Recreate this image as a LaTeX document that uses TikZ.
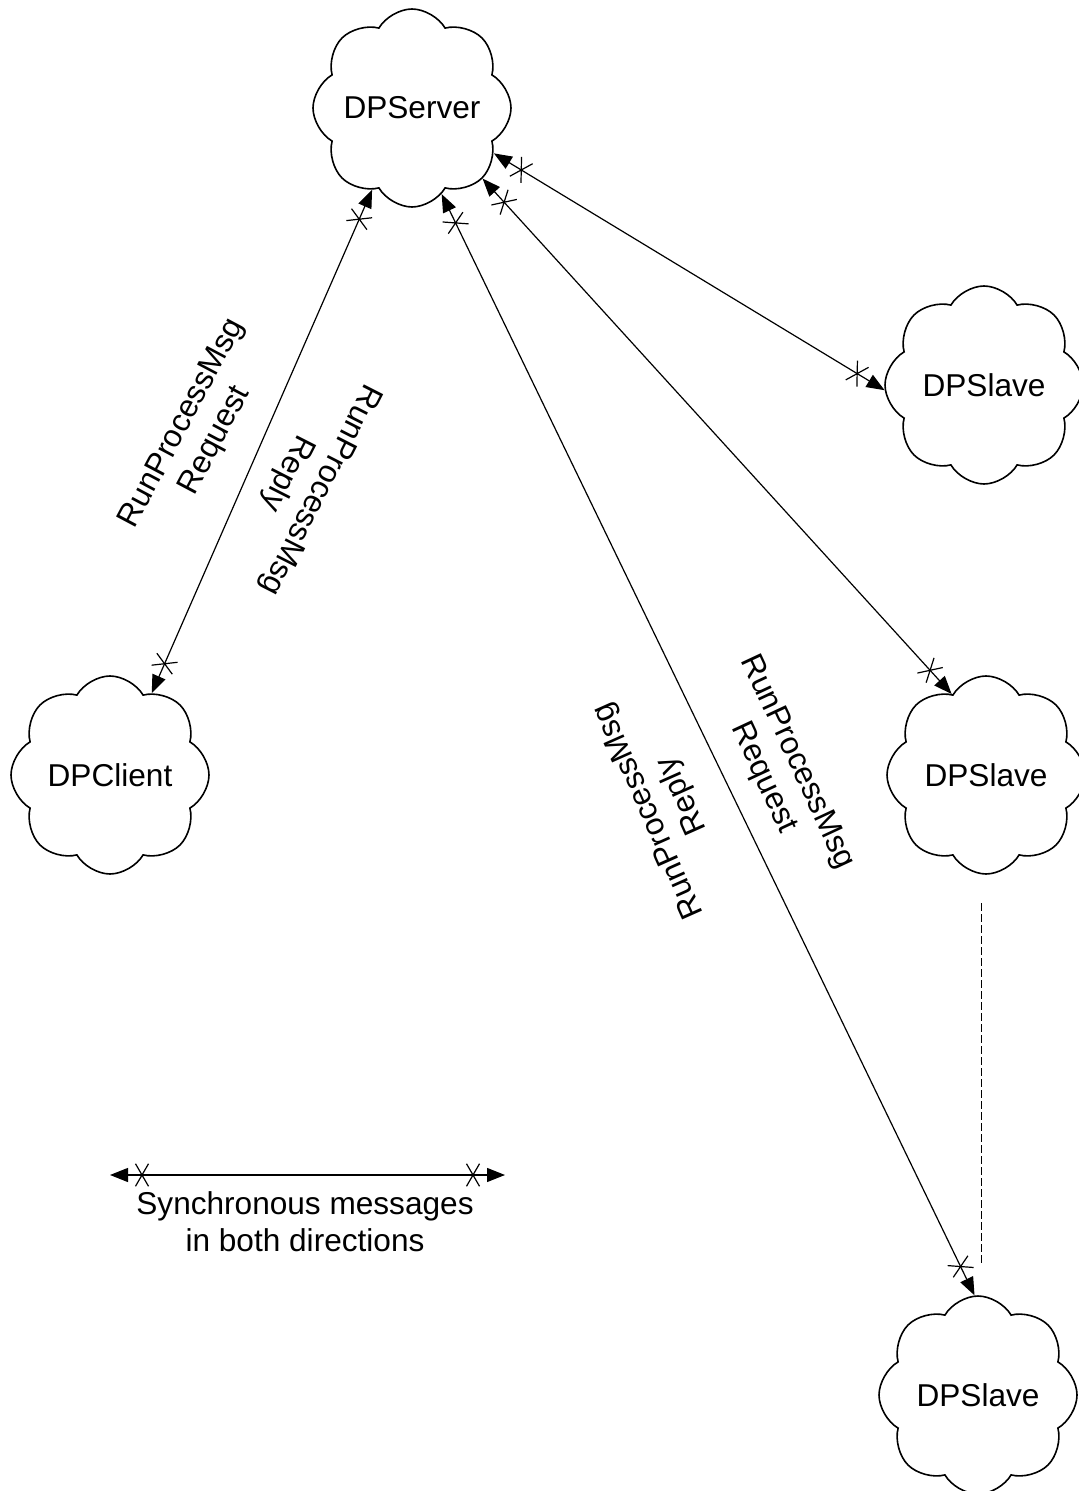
\documentclass[tikz,border=0pt]{standalone}
\usepackage{fontspec}
\setmainfont{Liberation Sans}
\usepackage{tikz}
\usetikzlibrary{shapes.symbols,arrows.meta,decorations.markings}
\newcommand{\msgstar}{\draw[-, line width=0.6pt] (60:6.5pt) -- (240:6.5pt) (120:6.5pt) -- (300:6.5pt);}
\tikzset{
  cloudnode/.style={cloud, cloud puffs=8, cloud puff arc=120, aspect=1, draw,
    line width=0.8pt, minimum width=99pt, minimum height=99pt,
    inner xsep=-25pt, inner ysep=0pt},
  syncmsg/.style={{Triangle[length=9pt,width=7pt]}-{Triangle[length=9pt,width=7pt]},
    line width=0.6pt, postaction={decorate},
    decoration={markings, mark=at position 16pt with {\msgstar},
      mark=at position -16pt with {\msgstar}}},
  msglabel/.style={align=center, inner sep=0pt},
}

\begin{document}
\begin{tikzpicture}[x=0.5pt, y=-0.5pt, font=\fontsize{15.8}{18.5}\selectfont]
\useasboundingbox (0,0) rectangle (1079,1491);

\node[cloudnode] (srv) at (412,108) {DPServer};
\node[cloudnode] (cli) at (110,775) {DPClient};
\node[cloudnode] (slvA) at (984,385) {DPSlave};
\node[cloudnode] (slvB) at (986,775) {DPSlave};
\node[cloudnode] (slvC) at (978,1395) {DPSlave};

\draw[syncmsg] (cli.63) -- (srv.244);
\draw[syncmsg] (srv.289) -- (slvC.92);
\draw[syncmsg] (srv.315) -- (slvB.113);
\draw[syncmsg] (srv.331) -- (slvA.183);

\node[msglabel, rotate=62] (reqcli) at (199,432) {RunProcessMsg\\Request};
\node[msglabel, rotate=243] (repcli) at (303,481) {RunProcessMsg\\Reply};
\node[msglabel, rotate=114] (repslv) at (666,803) {RunProcessMsg\\Reply};
\node[msglabel, rotate=-65] (reqslv) at (780,770) {RunProcessMsg\\Request};

\coordinate (more1) at (981,903);
\coordinate (more2) at (981,1265);
\draw[dashed, line width=0.5pt, dash pattern=on 4pt off 1.5pt] (more1) -- (more2);

\coordinate (lgl) at (110,1175);
\coordinate (lgr) at (505,1175);
\draw[syncmsg] (lgl) -- (lgr);
\node[msglabel] (lgtext) at (305,1222) {Synchronous messages\\in both directions};
\end{tikzpicture}
\end{document}
